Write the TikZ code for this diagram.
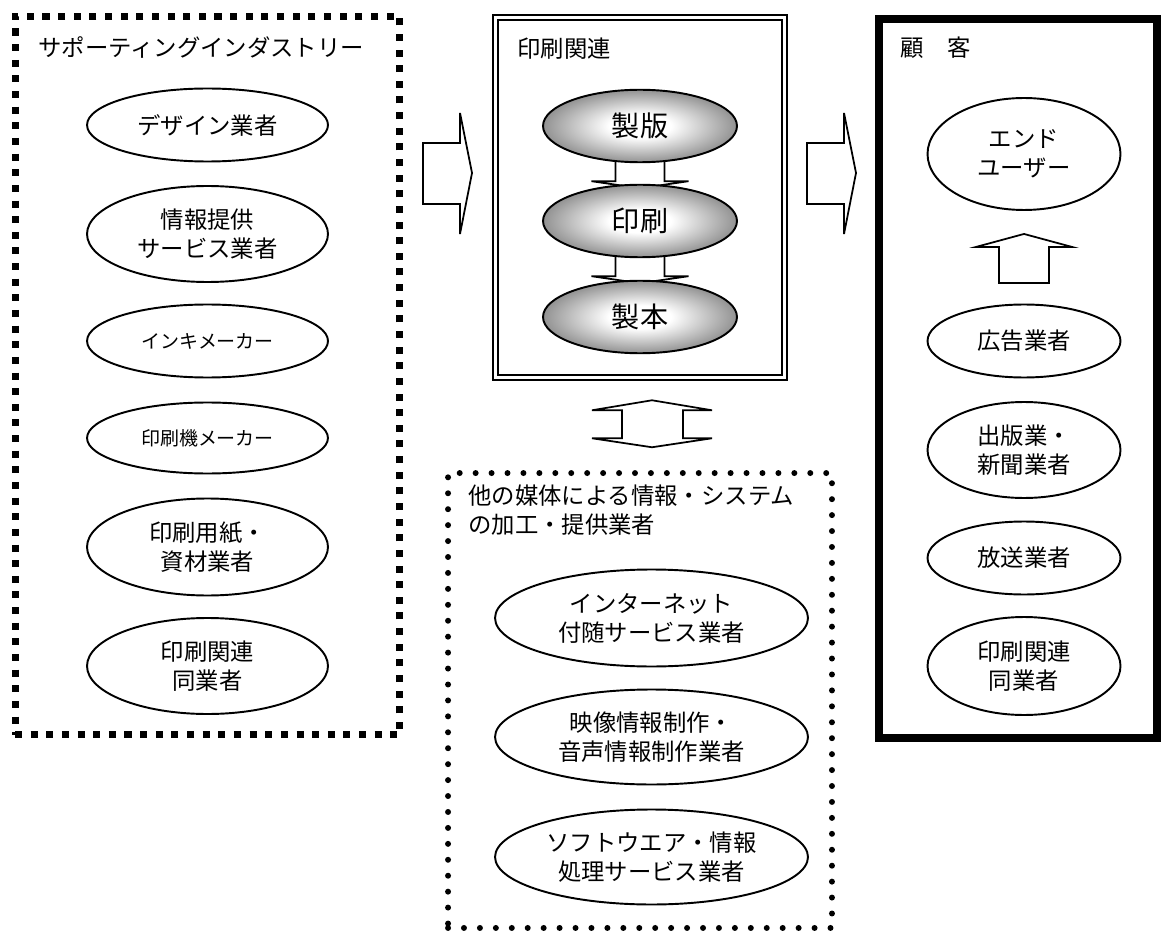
\documentclass[tikz,border=0pt]{standalone}
\usepackage{fontspec}
\setmainfont{Noto Sans CJK JP}
\usetikzlibrary{shapes.geometric,backgrounds,positioning}
\pgfdeclareradialshading{procshade}{\pgfpoint{0bp}{0bp}}{color(0bp)=(white); color(8bp)=(white); color(35bp)=(black!68); color(50bp)=(black!68)}

\begin{document}
\begin{tikzpicture}[x=0.02cm,y=-0.02cm]
\tikzstyle{every node}=[font=\fontsize{13.3}{16.5}\selectfont]
\tikzstyle{firm}=[ellipse, draw, line width=1.1pt, align=center, inner sep=0pt]
\tikzstyle{proc}=[firm, shade, shading=procshade, minimum width=3.88cm, minimum height=1.45cm, font=\fontsize{16}{19}\selectfont]
\tikzstyle{blockarrow}=[draw, fill=white, line width=1pt, line join=miter]
\tikzset{title/.style={anchor=west, align=left, inner sep=0pt}}
\useasboundingbox (0,0) rectangle (1162,932);

% frames
\node [draw, line width=4pt, dash pattern=on 4pt off 4.9pt, minimum width=7.7cm, minimum height=14.38cm] (SUP) at (207.5,375.5) {};
\node [draw, line width=1.2pt, double, double distance=1.6pt, minimum width=5.78cm, minimum height=7.19cm] (PRINT) at (640,197.5) {};
\node [draw, line width=4.5pt, minimum width=5.56cm, minimum height=14.38cm] (CUST) at (1018,378.5) {};
\node [draw, line width=3.4pt, line cap=round, dash pattern=on 0pt off 9.07pt, minimum width=7.68cm, minimum height=9.1cm] (MEDIA) at (640,700.5) {};

% titles
\node [title] (SUPT) at (38,47) {サポーティングインダストリー};
\node [title] (PRINTT) at (517,49) {印刷関連};
\node [title] (CUSTT) at (900,48) {顧　客};
\node [title] (MEDIAT) at (468,510) {他の媒体による情報・システム\\の加工・提供業者};

% supporting industry
\node [firm, minimum width=4.82cm, minimum height=1.46cm] (DESIGN) at (207.5,125) {デザイン業者};
\node [firm, minimum width=4.82cm, minimum height=1.92cm] (INFO) at (207.5,234) {情報提供\\サービス業者};
\node [firm, minimum width=4.82cm, minimum height=1.46cm, font=\fontsize{10.8}{13}\selectfont] (INK) at (207.5,341) {インキメーカー};
\node [firm, minimum width=4.82cm, minimum height=1.42cm, font=\fontsize{10.8}{13}\selectfont] (PRESS) at (207.5,438) {印刷機メーカー};
\node [firm, minimum width=4.82cm, minimum height=1.94cm] (PAPER) at (207.5,547) {印刷用紙・\\資材業者};
\node [firm, minimum width=4.82cm, minimum height=1.92cm] (PEER) at (207.5,666) {印刷関連\\同業者};

% printing process
\node [proc] (SEIHAN) at (640,126) {製版};
\node [proc] (INSATSU) at (640,221) {印刷};
\node [proc] (SEIHON) at (640,317) {製本};
\begin{scope}[on background layer]
\foreach \a in {SEIHAN,INSATSU}
  \draw [blockarrow] (\a.south) ++(-24.5,-12) -- ++(0,30) -- ++(-24,0) -- ++(48.5,7) -- ++(48.5,-7) -- ++(-24,0) -- ++(0,-30);
\end{scope}

% customers
\node [firm, minimum width=3.86cm, minimum height=2.24cm] (ENDUSER) at (1024,154) {エンド\\ユーザー};
\node [firm, minimum width=3.86cm, minimum height=1.46cm] (AD) at (1024,341) {広告業者};
\node [firm, minimum width=3.86cm, minimum height=1.92cm] (PUB) at (1024,450) {出版業・\\新聞業者};
\node [firm, minimum width=3.86cm, minimum height=1.46cm] (BROAD) at (1024,558) {放送業者};
\node [firm, minimum width=3.86cm, minimum height=1.96cm] (PEER2) at (1024,666) {印刷関連\\同業者};

% other media
\node [firm, minimum width=6.26cm, minimum height=1.94cm] (NET) at (651.5,618) {インターネット\\付随サービス業者};
\node [firm, minimum width=6.26cm, minimum height=1.9cm] (AV) at (651.5,737) {映像情報制作・\\音声情報制作業者};
\node [firm, minimum width=6.26cm, minimum height=1.9cm] (SOFT) at (651.5,857) {ソフトウエア・情報\\処理サービス業者};

% block arrows
\foreach \x in {423,807}
  \draw [blockarrow] (\x,143) -- ++(37,0) -- ++(0,-30) -- ++(12,60) -- ++(-12,61) -- ++(0,-30) -- ++(-37,0) -- cycle;
\draw [blockarrow] (ENDUSER.south) ++(-25,72) -- ++(0,-36) -- ++(-23,0) -- ++(48,-13) -- ++(48,13) -- ++(-23,0) -- ++(0,36) -- cycle;
\draw [blockarrow] (PRINT.south) ++(12,22) -- ++(60,10) -- ++(-29,0) -- ++(0,28) -- ++(29,0) -- ++(-60,9) -- ++(-60,-9) -- ++(30,0) -- ++(0,-28) -- ++(-30,0) -- cycle;
\end{tikzpicture}
\end{document}
